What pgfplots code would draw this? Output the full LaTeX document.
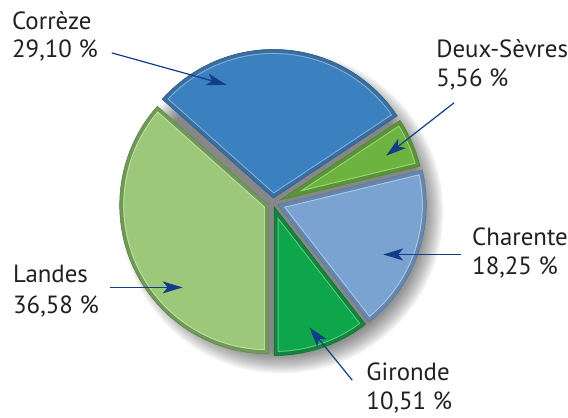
\documentclass[border=0pt]{standalone}
\usepackage{pgfplots}
\pgfplotsset{compat=1.18}
\usepackage{fontspec}
\setmainfont{PT Sans}
\usetikzlibrary{arrows.meta}

\definecolor{txt}{HTML}{231F20}
\definecolor{arr}{HTML}{123D88}
\definecolor{corF}{HTML}{3B80BF}\definecolor{corR}{HTML}{3A6E9E}\definecolor{corH}{HTML}{86B0DA}
\definecolor{deuF}{HTML}{6CB43F}\definecolor{deuR}{HTML}{5A9438}\definecolor{deuH}{HTML}{A2D282}
\definecolor{chaF}{HTML}{7BA3D1}\definecolor{chaR}{HTML}{6587AE}\definecolor{chaH}{HTML}{AFC8E6}
\definecolor{girF}{HTML}{0EA64B}\definecolor{girR}{HTML}{12843D}\definecolor{girH}{HTML}{62CA88}
\definecolor{lanF}{HTML}{9DC87A}\definecolor{lanR}{HTML}{6F9957}\definecolor{lanH}{HTML}{C6E0AC}

% data (percent)
\def\vLandes{36.58}
\def\vCorreze{29.10}
\def\vDeux{5.56}
\def\vCharente{18.25}
\def\vGironde{10.51}

\def\pcx{273.5}
\def\pcy{214.5}

\pgfmathsetmacro\aA{270}
\pgfmathsetmacro\aB{\aA-3.6*\vLandes}
\pgfmathsetmacro\aC{\aB-3.6*\vCorreze}
\pgfmathsetmacro\aD{\aC-3.6*\vDeux}
\pgfmathsetmacro\aE{\aD-3.6*\vCharente}
\pgfmathsetmacro\aF{\aE-3.6*\vGironde}

% #1 start, #2 end, #3 explode, #4 radius, #5 fill, #6 rim, #7 highlight
\newcommand\pieslice[7]{%
  \pgfmathsetmacro\pmid{(#1+#2)/2}%
  \pgfmathsetmacro\ptx{\pcx+#3*cos(\pmid)}%
  \pgfmathsetmacro\pty{\pcy+#3*sin(\pmid)}%
  \def\slicepath{(axis cs:\ptx,\pty) -- ++(#1:#4bp) arc[start angle=#1, end angle=#2, radius=#4bp] -- cycle}%
  \fill[#5] \slicepath;%
  \begin{scope}
    \clip \slicepath;
    \draw[#7, line width=9bp, line join=miter] \slicepath;
    \draw[#6, line width=7bp, line join=miter] \slicepath;
  \end{scope}
  \draw[#6!85!black, line width=0.5bp] \slicepath;%
}

\begin{document}
\begin{tikzpicture}
\begin{axis}[width=568bp, height=418bp, scale only axis,
  xmin=0, xmax=568, ymin=0, ymax=418, hide axis, clip=false]
\addplot[draw=none] coordinates {(0,0) (568,418)};
\pgfplotsextra{%
  \path (axis cs:0,0) rectangle (axis cs:568,418);
  % soft shadow
  \foreach \r in {140,141,...,162}{
    \fill[black, opacity=0.028] (axis cs:\pcx+9,\pcy-9) circle[radius=\r bp];
  }
  \pieslice{\aA}{\aB}{5}{149}{lanF}{lanR}{lanH}
  \pieslice{\aB}{\aC}{5}{149}{corF}{corR}{corH}
  \pieslice{\aC}{\aD}{8}{144}{deuF}{deuR}{deuH}
  \pieslice{\aD}{\aE}{5}{149}{chaF}{chaR}{chaH}
  \pieslice{\aE}{\aF}{4}{149}{girF}{girR}{girH}
  % arrows
  \tikzset{pa/.style={arr, line width=1.2bp, -{Stealth[length=20bp,width=12bp,inset=5bp]}}}
  \draw[pa] (axis cs:112,365) -- (axis cs:227,333);
  \draw[pa] (axis cs:455,315) -- (axis cs:387,262);
  \draw[pa] (axis cs:462,163) -- (axis cs:384,163);
  \draw[pa] (axis cs:110,130) -- (axis cs:183,130);
  \draw[pa] (axis cs:353,37) -- (axis cs:310,90);
  % labels
  \tikzset{lb/.style={anchor=base west, inner sep=0pt, text=txt, font=\fontsize{25}{29}\selectfont}}
  \node[lb] at (axis cs:12,388) {Corrèze};
  \node[lb] at (axis cs:12,360) {29,10 \%};
  \node[lb] at (axis cs:437,360) {Deux-Sèvres};
  \node[lb] at (axis cs:437,331) {5,56 \%};
  \node[lb] at (axis cs:473,172) {Charente};
  \node[lb] at (axis cs:473,143) {18,25 \%};
  \node[lb] at (axis cs:13,135) {Landes};
  \node[lb] at (axis cs:13,104) {36,58 \%};
  \node[lb] at (axis cs:367,37) {Gironde};
  \node[lb] at (axis cs:367,8) {10,51 \%};
}
\end{axis}
\end{tikzpicture}
\end{document}
